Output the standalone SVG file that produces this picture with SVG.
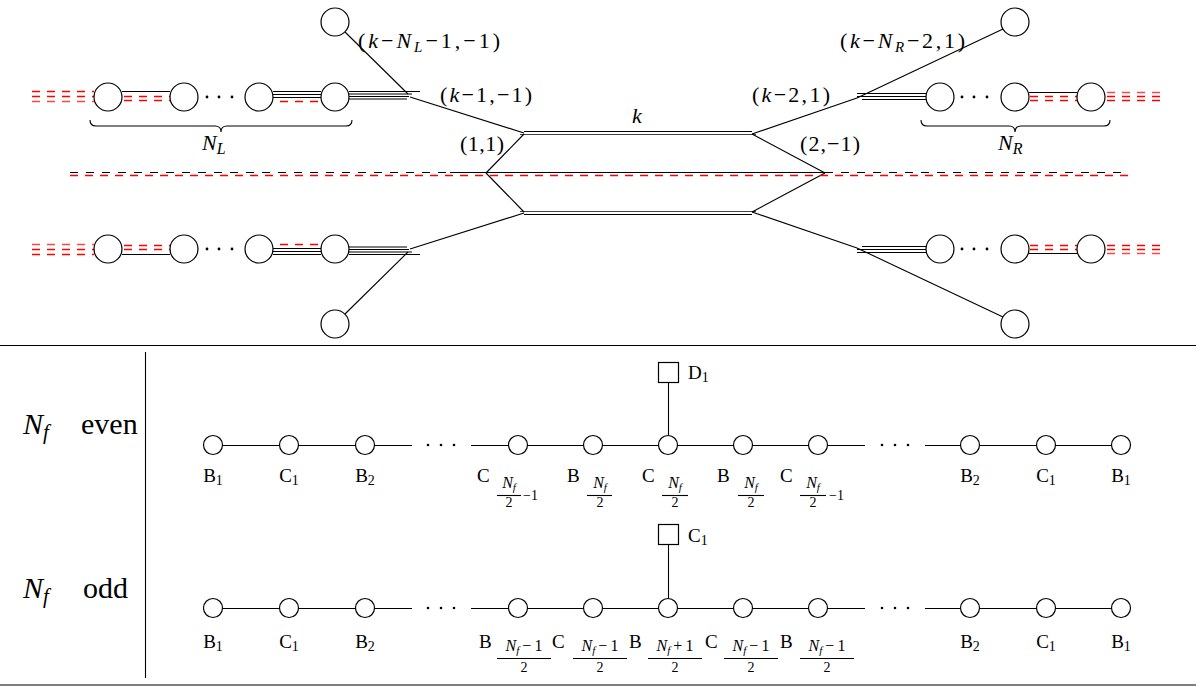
<svg xmlns="http://www.w3.org/2000/svg" xmlns:xlink="http://www.w3.org/1999/xlink" width="1200" height="688" viewBox="0 0 1200 688">
<style>
.l{stroke:#000;stroke-width:1.1;fill:none}
.g{stroke:#444;stroke-width:1.1;fill:none}
.c{fill:#fff;stroke:#000;stroke-width:1.2}
.rd{stroke:#f00;stroke-width:1.5;stroke-dasharray:8 7;fill:none}
.rp{stroke:#f44;stroke-width:1.5;stroke-dasharray:8 7;fill:none}
.kd{stroke:#000;stroke-width:1.1;stroke-dasharray:8 8;fill:none}
text{font-family:"Liberation Serif","DejaVu Serif",serif;fill:#000}
.t{font-size:22px}
.b{font-size:19px}
.s{font-size:14px}
.n{font-size:16px}
.ss{font-size:11px}
.i{font-style:italic}
.dot{fill:#000}
</style>
<defs>
<g id="web">
<line class="rd" x1="32" y1="91.5" x2="94" y2="91.5"/>
<line class="rd" x1="32" y1="96.5" x2="94" y2="96.5"/>
<line class="rp" x1="32" y1="101.5" x2="94" y2="101.5"/>
<line class="l" x1="122" y1="91.5" x2="170" y2="91.5"/>
<line class="rd" x1="124" y1="96.5" x2="170" y2="96.5"/>
<line class="rd" x1="124" y1="100.5" x2="170" y2="100.5"/>
<circle class="dot" cx="207" cy="97" r="1.4"/>
<circle class="dot" cx="219" cy="97" r="1.4"/>
<circle class="dot" cx="232" cy="97" r="1.4"/>
<line class="l" x1="273" y1="91.5" x2="321" y2="91.5"/>
<line class="l" x1="273" y1="94.5" x2="321" y2="94.5"/>
<line class="l" x1="273" y1="97.5" x2="321" y2="97.5"/>
<line class="rd" x1="280" y1="101.5" x2="318" y2="101.5"/>
<line class="l" x1="349" y1="91.5" x2="420" y2="91.5"/>
<line class="l" x1="349" y1="94" x2="412" y2="94"/>
<line class="l" x1="349" y1="96.5" x2="409" y2="96.5"/>
<line class="l" x1="349" y1="99" x2="407" y2="99"/>
<line class="l" x1="345" y1="32" x2="408" y2="94"/>
<line class="l" x1="410" y1="97" x2="524" y2="133"/>
<line class="l" x1="524" y1="131.5" x2="752" y2="131.5"/>
<line class="g" x1="520" y1="134.5" x2="756" y2="134.5"/>
<line class="l" x1="524" y1="134" x2="486" y2="173"/>
<line class="l" x1="752" y1="134" x2="825" y2="173"/>
<line class="l" x1="752" y1="134" x2="857" y2="98"/>
<line class="l" x1="857" y1="98" x2="1003" y2="29"/>
<line class="l" x1="857" y1="93.5" x2="927" y2="93.5"/>
<line class="l" x1="857" y1="96.5" x2="927" y2="96.5"/>
<line class="l" x1="862" y1="99.5" x2="927" y2="99.5"/>
<circle class="dot" cx="962" cy="97" r="1.4"/>
<circle class="dot" cx="974" cy="97" r="1.4"/>
<circle class="dot" cx="987" cy="97" r="1.4"/>
<line class="l" x1="1029" y1="92.5" x2="1077" y2="92.5"/>
<line class="rd" x1="1030" y1="96.5" x2="1077" y2="96.5"/>
<line class="rd" x1="1030" y1="100.5" x2="1077" y2="100.5"/>
<line class="rp" x1="1107" y1="92.5" x2="1167" y2="92.5"/>
<line class="rd" x1="1107" y1="96.5" x2="1167" y2="96.5"/>
<line class="rd" x1="1107" y1="100.5" x2="1167" y2="100.5"/>
<circle class="c" cx="108" cy="97" r="14"/>
<circle class="c" cx="184" cy="97" r="14"/>
<circle class="c" cx="259" cy="97" r="14"/>
<circle class="c" cx="335" cy="97" r="14"/>
<circle class="c" cx="335" cy="22" r="14"/>
<circle class="c" cx="940" cy="97" r="14"/>
<circle class="c" cx="1015" cy="97" r="14"/>
<circle class="c" cx="1091" cy="97" r="14"/>
<circle class="c" cx="1015" cy="22" r="14"/>
</g>
</defs>

<g id="brane-web">
<use xlink:href="#web"/>
<use xlink:href="#web" transform="matrix(1 0 0 -1 0 346)"/>
<line class="kd" x1="70" y1="172.5" x2="450" y2="172.5"/>
<line class="l" x1="450" y1="172.5" x2="825" y2="172.5"/>
<line class="kd" x1="825" y1="172.5" x2="1123" y2="172.5"/>
<line class="rd" x1="70" y1="175.5" x2="1128" y2="175.5"/>
<path class="l" stroke-width="1.5" d="M90,120 q0,6 6,6 H215 q6,0 6,6 q0,-6 6,-6 H346 q6,0 6,-6"/>
<path class="l" stroke-width="1.5" d="M921,120 q0,6 6,6 H1009 q6,0 6,6 q0,-6 6,-6 H1104 q6,0 6,-6"/>
<text class="t" x="358" y="48" textLength="142">(<tspan class="i">k</tspan>−<tspan class="i">N</tspan><tspan class="i" font-size="15" dy="4">L</tspan><tspan dy="-4">−1,−1)</tspan></text>
<text class="t" x="440" y="102" textLength="92">(<tspan class="i">k</tspan>−1,−1)</text>
<text class="t i" x="637" y="123" text-anchor="middle">k</text>
<text class="t" x="460" y="151" textLength="44">(1,1)</text>
<text class="t" x="752" y="102" textLength="78">(<tspan class="i">k</tspan>−2,1)</text>
<text class="t" x="840" y="48" textLength="125">(<tspan class="i">k</tspan>−<tspan class="i">N</tspan><tspan class="i" font-size="15" dy="4">R</tspan><tspan dy="-4">−2,1)</tspan></text>
<text class="t" x="800" y="151" textLength="60">(2,−1)</text>
<text class="t" x="202" y="150"><tspan class="i">N</tspan><tspan class="i" font-size="16" dy="4">L</tspan></text>
<text class="t" x="998" y="150"><tspan class="i">N</tspan><tspan class="i" font-size="16" dy="4">R</tspan></text>
</g>

<g id="frame">
<line class="l" x1="0" y1="345.5" x2="1196" y2="345.5" stroke-width="1.3"/>
<line class="l" x1="145.5" y1="352" x2="145.5" y2="678"/>
<line class="l" x1="0" y1="685" x2="1196" y2="685" stroke-width="2"/>
<text x="23" y="434" font-size="30"><tspan class="i">N</tspan><tspan class="i" font-size="21" dy="5">f</tspan></text>
<text x="81" y="434" font-size="30">even</text>
<text x="23" y="598" font-size="30"><tspan class="i">N</tspan><tspan class="i" font-size="21" dy="5">f</tspan></text>
<text x="83" y="598" font-size="30">odd</text>
</g>

<g id="connectors">
<line class="l" x1="213" y1="445.5" x2="412" y2="445.5"/>
<line class="l" x1="471" y1="445.5" x2="865" y2="445.5"/>
<line class="l" x1="925" y1="445.5" x2="1121" y2="445.5"/>
<line class="l" x1="668.5" y1="445" x2="668.5" y2="382"/>
<line class="l" x1="213" y1="608.5" x2="412" y2="608.5"/>
<line class="l" x1="471" y1="608.5" x2="865" y2="608.5"/>
<line class="l" x1="925" y1="608.5" x2="1121" y2="608.5"/>
<line class="l" x1="668.5" y1="608" x2="668.5" y2="544"/>
<circle class="dot" cx="428" cy="445" r="1.3"/><circle class="dot" cx="441" cy="445" r="1.3"/><circle class="dot" cx="454" cy="445" r="1.3"/>
<circle class="dot" cx="882" cy="445" r="1.3"/><circle class="dot" cx="895" cy="445" r="1.3"/><circle class="dot" cx="908" cy="445" r="1.3"/>
<circle class="dot" cx="428" cy="608" r="1.3"/><circle class="dot" cx="441" cy="608" r="1.3"/><circle class="dot" cx="454" cy="608" r="1.3"/>
<circle class="dot" cx="882" cy="608" r="1.3"/><circle class="dot" cx="895" cy="608" r="1.3"/><circle class="dot" cx="908" cy="608" r="1.3"/>
</g>

<g id="e-b1"><circle class="c" cx="213" cy="445" r="9.5"/><text class="b" x="213" y="482" text-anchor="middle">B<tspan class="s" dy="3">1</tspan></text></g>
<g id="e-c1"><circle class="c" cx="289" cy="445" r="9.5"/><text class="b" x="289" y="482" text-anchor="middle">C<tspan class="s" dy="3">1</tspan></text></g>
<g id="e-b2"><circle class="c" cx="365" cy="445" r="9.5"/><text class="b" x="365" y="482" text-anchor="middle">B<tspan class="s" dy="3">2</tspan></text></g>
<g id="e-cm1"><circle class="c" cx="518" cy="445" r="9.5"/>
<text class="b" x="477" y="482">C</text>
<text class="n" x="509" y="488" text-anchor="middle"><tspan class="i">N</tspan><tspan class="i ss" dy="3">f</tspan></text>
<line class="l" x1="497" y1="495.5" x2="521" y2="495.5" stroke-width="0.9"/>
<text class="s" x="509" y="507" text-anchor="middle">2</text>
<text class="s" x="523" y="500">−1</text></g>
<g id="e-bm"><circle class="c" cx="593" cy="445" r="9.5"/>
<text class="b" x="567" y="482">B</text>
<text class="n" x="600" y="488" text-anchor="middle"><tspan class="i">N</tspan><tspan class="i ss" dy="3">f</tspan></text>
<line class="l" x1="587" y1="495.5" x2="612" y2="495.5" stroke-width="0.9"/>
<text class="s" x="600" y="507" text-anchor="middle">2</text></g>
<g id="e-cm"><circle class="c" cx="668" cy="445" r="9.5"/>
<text class="b" x="642" y="482">C</text>
<text class="n" x="675" y="488" text-anchor="middle"><tspan class="i">N</tspan><tspan class="i ss" dy="3">f</tspan></text>
<line class="l" x1="662" y1="495.5" x2="688" y2="495.5" stroke-width="0.9"/>
<text class="s" x="675" y="507" text-anchor="middle">2</text></g>
<g id="e-bm2"><circle class="c" cx="743" cy="445" r="9.5"/>
<text class="b" x="717" y="482">B</text>
<text class="n" x="751" y="488" text-anchor="middle"><tspan class="i">N</tspan><tspan class="i ss" dy="3">f</tspan></text>
<line class="l" x1="738" y1="495.5" x2="764" y2="495.5" stroke-width="0.9"/>
<text class="s" x="751" y="507" text-anchor="middle">2</text></g>
<g id="e-cm12"><circle class="c" cx="818" cy="445" r="9.5"/>
<text class="b" x="780" y="482">C</text>
<text class="n" x="813" y="488" text-anchor="middle"><tspan class="i">N</tspan><tspan class="i ss" dy="3">f</tspan></text>
<line class="l" x1="800" y1="495.5" x2="826" y2="495.5" stroke-width="0.9"/>
<text class="s" x="813" y="507" text-anchor="middle">2</text>
<text class="s" x="829" y="500">−1</text></g>
<g id="e-b22"><circle class="c" cx="970" cy="445" r="9.5"/><text class="b" x="970" y="482" text-anchor="middle">B<tspan class="s" dy="3">2</tspan></text></g>
<g id="e-c12"><circle class="c" cx="1046" cy="445" r="9.5"/><text class="b" x="1046" y="482" text-anchor="middle">C<tspan class="s" dy="3">1</tspan></text></g>
<g id="e-b12"><circle class="c" cx="1121" cy="445" r="9.5"/><text class="b" x="1121" y="482" text-anchor="middle">B<tspan class="s" dy="3">1</tspan></text></g>
<g id="e-d1"><rect class="c" x="658.5" y="362.5" width="20" height="20"/><text class="b" x="688" y="379">D<tspan class="s" dy="3">1</tspan></text></g>

<g id="o-b1"><circle class="c" cx="213" cy="608" r="9.5"/><text class="b" x="213" y="648" text-anchor="middle">B<tspan class="s" dy="3">1</tspan></text></g>
<g id="o-c1"><circle class="c" cx="289" cy="608" r="9.5"/><text class="b" x="289" y="648" text-anchor="middle">C<tspan class="s" dy="3">1</tspan></text></g>
<g id="o-b2"><circle class="c" cx="365" cy="608" r="9.5"/><text class="b" x="365" y="648" text-anchor="middle">B<tspan class="s" dy="3">2</tspan></text></g>
<g id="o-n1"><circle class="c" cx="518" cy="608" r="9.5"/>
<text class="b" x="479" y="648">B</text>
<text class="n" x="524" y="651" text-anchor="middle"><tspan class="i">N</tspan><tspan class="i ss" dy="3">f</tspan><tspan dx="3" dy="-3">−</tspan><tspan dx="3">1</tspan></text>
<line class="l" x1="497" y1="658.5" x2="551" y2="658.5" stroke-width="0.9"/>
<text class="s" x="524" y="672" text-anchor="middle">2</text></g>
<g id="o-n2"><circle class="c" cx="593" cy="608" r="9.5"/>
<text class="b" x="552" y="648">C</text>
<text class="n" x="600" y="651" text-anchor="middle"><tspan class="i">N</tspan><tspan class="i ss" dy="3">f</tspan><tspan dx="3" dy="-3">−</tspan><tspan dx="3">1</tspan></text>
<line class="l" x1="573" y1="658.5" x2="627" y2="658.5" stroke-width="0.9"/>
<text class="s" x="600" y="672" text-anchor="middle">2</text></g>
<g id="o-n3"><circle class="c" cx="668" cy="608" r="9.5"/>
<text class="b" x="629" y="648">B</text>
<text class="n" x="675" y="651" text-anchor="middle"><tspan class="i">N</tspan><tspan class="i ss" dy="3">f</tspan><tspan dx="3" dy="-3">+</tspan><tspan dx="3">1</tspan></text>
<line class="l" x1="648" y1="658.5" x2="702" y2="658.5" stroke-width="0.9"/>
<text class="s" x="675" y="672" text-anchor="middle">2</text></g>
<g id="o-n4"><circle class="c" cx="743" cy="608" r="9.5"/>
<text class="b" x="705" y="648">C</text>
<text class="n" x="751" y="651" text-anchor="middle"><tspan class="i">N</tspan><tspan class="i ss" dy="3">f</tspan><tspan dx="3" dy="-3">−</tspan><tspan dx="3">1</tspan></text>
<line class="l" x1="724" y1="658.5" x2="778" y2="658.5" stroke-width="0.9"/>
<text class="s" x="751" y="672" text-anchor="middle">2</text></g>
<g id="o-n5"><circle class="c" cx="818" cy="608" r="9.5"/>
<text class="b" x="780" y="648">B</text>
<text class="n" x="827" y="651" text-anchor="middle"><tspan class="i">N</tspan><tspan class="i ss" dy="3">f</tspan><tspan dx="3" dy="-3">−</tspan><tspan dx="3">1</tspan></text>
<line class="l" x1="800" y1="658.5" x2="854" y2="658.5" stroke-width="0.9"/>
<text class="s" x="827" y="672" text-anchor="middle">2</text></g>
<g id="o-b22"><circle class="c" cx="970" cy="608" r="9.5"/><text class="b" x="970" y="648" text-anchor="middle">B<tspan class="s" dy="3">2</tspan></text></g>
<g id="o-c12"><circle class="c" cx="1046" cy="608" r="9.5"/><text class="b" x="1046" y="648" text-anchor="middle">C<tspan class="s" dy="3">1</tspan></text></g>
<g id="o-b12"><circle class="c" cx="1121" cy="608" r="9.5"/><text class="b" x="1121" y="648" text-anchor="middle">B<tspan class="s" dy="3">1</tspan></text></g>
<g id="o-c1f"><rect class="c" x="658.5" y="524.5" width="20" height="20"/><text class="b" x="688" y="542">C<tspan class="s" dy="3">1</tspan></text></g>
</svg>
